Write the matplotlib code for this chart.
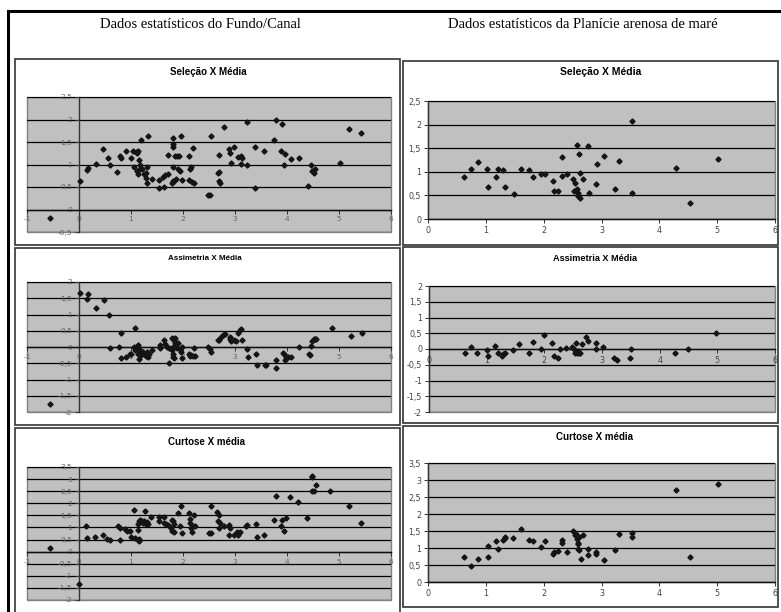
import matplotlib
matplotlib.use("Agg")
import matplotlib.pyplot as plt
from matplotlib.patches import Rectangle
from matplotlib.lines import Line2D
from matplotlib.ticker import FuncFormatter, MultipleLocator
import numpy as np

# ---------------- DATA ----------------
header_left = "Dados estatísticos do Fundo/Canal"
header_right = "Dados estatísticos da Planície arenosa de maré"

title_sel = "Seleção X Média"
title_ass = "Assimetria X Média"
title_cur = "Curtose X média"

# Fundo/Canal - Seleção
fc_sel_x = [-0.56, 0.02, 0.15, 0.17, 0.32, 0.47, 0.56, 0.6, 0.74, 0.79, 0.8, 0.9, 1.0, 1.03, 1.1, 1.12, 1.13,
            1.16, 1.17, 1.06, 1.11, 1.14, 1.17, 1.19, 1.22, 1.25, 1.28, 1.29, 1.32, 1.3, 1.31, 1.4, 1.54, 1.54,
            1.62, 1.65, 1.63, 1.71, 1.72, 1.8, 1.8, 1.8, 1.8, 1.81, 1.78, 1.87, 1.83, 1.85, 1.88, 1.92, 1.9, 1.94,
            1.97, 1.99, 2.12, 2.15, 2.13, 2.12, 2.17, 2.2, 2.22, 2.49, 2.52, 2.53, 2.67, 2.69, 2.69, 2.72, 2.7,
            2.79, 2.88, 2.9, 2.92, 2.99, 3.05, 3.12, 3.14, 3.12, 3.23, 3.24, 3.38, 3.39, 3.56, 3.75, 3.78, 3.88,
            3.91, 3.94, 3.97, 4.07, 4.23, 4.41, 4.47, 4.49, 4.51, 4.54, 5.02, 5.2, 5.42]
fc_sel_y = [-0.19, 0.64, 0.88, 0.92, 1.02, 1.35, 1.14, 1.0, 0.84, 1.18, 1.14, 1.29, 1.14, 1.3, 1.28, 1.25, 1.31,
            1.1, 1.0, 0.95, 0.86, 0.78, 0.9, 1.55, 0.91, 0.78, 0.7, 0.82, 1.63, 0.95, 0.58, 0.68, 0.65, 0.48,
            0.73, 0.77, 0.5, 0.8, 1.21, 1.58, 1.46, 1.39, 0.95, 0.63, 0.59, 0.67, 0.63, 1.18, 1.18, 1.18, 0.91, 0.86,
            1.63, 0.66, 1.18, 0.95, 0.91, 0.65, 0.61, 1.36, 0.59, 0.33, 0.33, 1.63, 0.82, 0.84, 0.63, 0.58, 1.21,
            1.84, 1.35, 1.26, 1.03, 1.39, 1.16, 1.18, 1.14, 1.02, 1.94, 0.98, 1.39, 0.48, 1.29, 1.55, 1.99, 1.31,
            1.89, 0.98, 1.23, 1.12, 1.14, 0.52, 0.99, 0.86, 0.82, 0.89, 1.03, 1.78, 1.7]

# Fundo/Canal - Assimetria
fc_ass_x = [-0.56, 0.02, 0.15, 0.17, 0.33, 0.48, 0.57, 0.6, 0.76, 0.8, 0.8, 0.9, 0.98, 1.0, 1.07, 1.05, 1.08,
            1.11, 1.13, 1.14, 1.15, 1.18, 1.2, 1.23, 1.25, 1.29, 1.3, 1.32, 1.35, 1.4, 1.55, 1.56, 1.63, 1.65,
            1.69, 1.73, 1.74, 1.78, 1.8, 1.82, 1.84, 1.78, 1.8, 1.8, 1.82, 1.81, 1.85, 1.88, 1.91, 1.94, 1.98,
            1.96, 1.99, 2.12, 2.13, 2.15, 2.19, 2.21, 2.23, 2.49, 2.51, 2.54, 2.67, 2.7, 2.73, 2.76, 2.8, 2.9,
            2.91, 2.93, 2.98, 3.02, 3.06, 3.09, 3.12, 3.14, 3.23, 3.25, 3.41, 3.43, 3.57, 3.6, 3.78, 3.78, 3.92,
            3.95, 3.97, 3.99, 4.02, 4.07, 4.23, 4.42, 4.44, 4.47, 4.49, 4.51, 4.53, 4.56, 4.86, 5.23, 5.44]
fc_ass_y = [-1.76, 1.66, 1.49, 1.64, 1.21, 1.45, 0.99, -0.02, 0.01, 0.44, -0.33, -0.3, -0.2, -0.22, 0.6, 0.01,
            -0.09, -0.04, -0.2, 0.06, -0.38, -0.09, -0.25, -0.14, -0.22, -0.28, -0.14, -0.3, -0.2, -0.09, 0.06,
            -0.04, 0.22, 0.08, 0.01, -0.04, -0.48, 0.27, 0.24, 0.22, 0.27, -0.09, -0.2, -0.3, -0.35, 0.01, 0.11,
            -0.04, 0.11, -0.07, 0.01, -0.14, -0.35, -0.2, -0.28, -0.25, -0.28, -0.04, -0.28, 0.01, -0.06, -0.14,
            0.22, 0.22, 0.3, 0.37, 0.4, 0.3, 0.24, 0.2, 0.22, 0.2, 0.44, 0.53, 0.56, 0.22, -0.06, -0.3, -0.23,
            -0.56, -0.56, -0.56, -0.4, -0.66, -0.18, -0.2, -0.4, -0.3, -0.3, -0.3, 0.01, -0.23, -0.25, 0.03, 0.19,
            0.24, 0.24, 0.24, 0.6, 0.35, 0.44]

# Fundo/Canal - Curtose
fc_cur_x = [-0.56, 0.0, 0.14, 0.16, 0.31, 0.47, 0.53, 0.59, 0.75, 0.79, 0.79, 0.89, 0.92, 0.98, 1.0, 1.06, 1.08,
            1.13, 1.16, 1.15, 1.13, 1.16, 1.17, 1.21, 1.14, 1.23, 1.25, 1.28, 1.3, 1.32, 1.26, 1.38, 1.53, 1.54,
            1.63, 1.63, 1.67, 1.72, 1.79, 1.8, 1.82, 1.77, 1.79, 1.82, 1.9, 1.95, 1.97, 1.98, 2.12, 2.13, 2.14,
            2.16, 2.17, 2.19, 2.22, 2.24, 2.5, 2.53, 2.53, 2.66, 2.69, 2.67, 2.72, 2.69, 2.78, 2.88, 2.91, 2.88,
            2.98, 3.04, 3.05, 3.1, 3.22, 3.24, 3.4, 3.43, 3.56, 3.75, 3.78, 3.88, 3.91, 3.95, 3.98, 4.06, 4.22,
            4.39, 4.48, 4.49, 4.48, 4.52, 4.55, 4.83, 5.2, 5.42]
fc_cur_y = [0.17, -1.32, 1.04, 0.55, 0.61, 0.69, 0.51, 0.48, 1.04, 0.97, 0.48, 0.93, 0.86, 0.86, 0.62, 1.73, 0.55,
            0.48, 0.42, 0.51, 1.14, 1.25, 1.32, 1.25, 0.9, 1.18, 1.25, 1.14, 1.22, 1.14, 1.66, 1.45, 1.45, 1.25,
            1.43, 1.18, 1.14, 1.11, 1.32, 1.25, 1.14, 0.97, 0.86, 0.83, 1.59, 1.04, 1.87, 0.76, 1.59, 1.34, 1.18,
            0.97, 0.83, 1.04, 1.52, 1.04, 0.76, 0.76, 1.9, 1.63, 1.52, 1.25, 1.18, 0.97, 1.04, 1.11, 0.97, 0.69,
            0.69, 0.83, 0.69, 0.8, 1.04, 1.11, 1.14, 0.62, 0.69, 1.32, 2.31, 1.08, 1.32, 0.86, 1.38, 2.24, 2.05,
            1.41, 3.14, 3.07, 2.49, 2.49, 2.77, 2.49, 1.87, 1.18]

# Planície arenosa - Seleção
pm_sel_x = [0.63, 0.74, 0.87, 1.02, 1.03, 1.17, 1.21, 1.29, 1.33, 1.48, 1.6, 1.75, 1.82, 1.96, 2.03, 2.16, 2.18,
            2.24, 2.31, 2.31, 2.41, 2.51, 2.52, 2.54, 2.57, 2.58, 2.59, 2.6, 2.61, 2.63, 2.62, 2.68, 2.76, 2.78,
            2.91, 2.93, 3.04, 3.23, 3.31, 3.52, 3.53, 4.29, 4.53, 5.02]
pm_sel_y = [0.88, 1.05, 1.2, 1.05, 0.67, 0.89, 1.05, 1.03, 0.67, 0.53, 1.06, 1.03, 0.9, 0.96, 0.96, 0.81, 0.6,
            0.6, 1.32, 0.92, 0.96, 0.84, 0.6, 0.77, 1.57, 0.63, 0.55, 0.48, 1.38, 0.97, 0.44, 0.84, 1.55, 0.56,
            0.74, 1.17, 1.34, 0.63, 1.22, 2.08, 0.56, 1.07, 0.34, 1.27]

# Planície arenosa - Assimetria
pm_ass_x = [0.62, 0.72, 0.84, 1.01, 1.02, 1.15, 1.19, 1.26, 1.29, 1.32, 1.46, 1.56, 1.74, 1.8, 1.94, 1.99, 2.13,
            2.16, 2.23, 2.27, 2.37, 2.48, 2.51, 2.54, 2.55, 2.56, 2.58, 2.6, 2.62, 2.65, 2.73, 2.75, 2.89, 2.89,
            3.01, 3.2, 3.26, 3.5, 3.49, 4.26, 4.49, 4.98]
pm_ass_y = [-0.14, 0.07, -0.14, -0.03, -0.22, 0.1, -0.14, -0.22, -0.17, -0.14, -0.03, 0.15, -0.14, 0.23, 0.0,
            0.45, 0.18, -0.22, -0.27, 0.0, 0.04, 0.07, 0.0, -0.14, 0.18, -0.14, -0.06, -0.14, -0.14, 0.15, 0.39,
            0.25, 0.18, 0.0, 0.07, -0.27, -0.35, -0.01, -0.3, -0.14, 0.0, 0.5]

# Planície arenosa - Curtose
pm_cur_x = [0.63, 0.74, 0.87, 1.03, 1.03, 1.17, 1.21, 1.29, 1.33, 1.34, 1.47, 1.6, 1.75, 1.82, 1.96, 2.03, 2.16,
            2.18, 2.25, 2.31, 2.31, 2.41, 2.51, 2.54, 2.56, 2.58, 2.59, 2.6, 2.61, 2.6, 2.61, 2.64, 2.68, 2.77,
            2.77, 2.91, 2.91, 3.04, 3.23, 3.3, 3.53, 3.53, 4.29, 4.53, 5.02]
pm_cur_y = [0.74, 0.46, 0.69, 1.05, 0.74, 1.21, 0.98, 1.25, 1.3, 1.32, 1.3, 1.57, 1.23, 1.21, 1.03, 1.2, 0.83,
            0.88, 0.91, 1.25, 1.16, 0.88, 1.49, 1.37, 1.42, 1.27, 1.13, 1.15, 1.32, 0.96, 0.93, 0.69, 1.37, 0.98,
            0.78, 0.88, 0.83, 0.64, 0.93, 1.4, 1.45, 1.32, 2.7, 0.74, 2.87]

# ---------------- LAYOUT ----------------
W, H = 781, 612
fig = plt.figure(figsize=(W / 100, H / 100), dpi=100)
fig.patch.set_facecolor("white")


def fx(x):
    return x / W


def fy(y):
    return 1 - y / H


def box(x0, y0, x1, y1, lw=1.2, ec="#333333"):
    r = Rectangle((fx(x0), fy(y1)), fx(x1) - fx(x0), fy(y0) - fy(y1), transform=fig.transFigure,
                  fill=True, facecolor="white", edgecolor=ec, lw=lw, zorder=-5)
    fig.add_artist(r)


# outer frame
fig.add_artist(Line2D([fx(8), fx(8)], [fy(11), fy(615)], transform=fig.transFigure, color="black", lw=2.2, zorder=-4))
fig.add_artist(Line2D([fx(8), fx(785)], [fy(11), fy(11)], transform=fig.transFigure, color="black", lw=2.2, zorder=-4))

# chart boxes
box(15, 59, 400, 245)
box(15, 248, 400, 425)
box(15, 428, 400, 616)
box(403, 61, 778, 245)
box(403, 247, 778, 423)
box(403, 426, 778, 607)

fig.text(fx(200), fy(24), header_left, family="Liberation Serif", fontsize=10.5, ha="center", va="center")
fig.text(fx(583), fy(24), header_right, family="Liberation Serif", fontsize=10.5, ha="center", va="center")

fmt = FuncFormatter(lambda v, p: ("%g" % round(v, 2)).replace(".", ",") if abs(v) > 1e-9 else "0")


def make_ax(rect, xlim, ylim, cross, xs, ys, lab=5.5, labcol="#555555"):
    x0, y0, x1, y1 = rect
    ax = fig.add_axes([fx(x0), fy(y1), fx(x1) - fx(x0), fy(y0) - fy(y1)])
    ax.set_facecolor("#C0C0C0")
    ax.set_xlim(*xlim)
    ax.set_ylim(*ylim)
    ax.xaxis.set_major_locator(MultipleLocator(1))
    ax.yaxis.set_major_locator(MultipleLocator(0.5))
    ax.xaxis.set_major_formatter(fmt)
    ax.yaxis.set_major_formatter(fmt)
    ax.yaxis.grid(True, color="black", lw=0.9)
    ax.set_axisbelow(True)
    for s in ("top", "right"):
        ax.spines[s].set_visible(False)
    ax.add_patch(Rectangle((0, 0), 1, 1, transform=ax.transAxes, fill=False, ec="#808080", lw=1.0,
                           zorder=0.5, clip_on=False))
    if cross:
        ax.spines["left"].set_position(("data", 0))
    if ylim[0] < 0:
        ax.spines["bottom"].set_position(("data", 0))
    ax.spines["left"].set_color("#333333")
    ax.spines["bottom"].set_color("#111111")
    ax.spines["left"].set_linewidth(1.0)
    ax.spines["bottom"].set_linewidth(1.0)
    ax.tick_params(axis="both", labelsize=lab, labelcolor=labcol, color="#333333", length=3, width=0.7,
                   pad=2, direction="out")
    ax.plot(xs, ys, linestyle="none", marker="D", ms=2.6, color="#141414", mec="#141414", zorder=3)
    return ax


make_ax((27, 97, 391, 232), (-1, 6), (-0.5, 2.5), True, fc_sel_x, fc_sel_y, 5.4, "#666666")
make_ax((27, 282, 391, 412), (-1, 6), (-2, 2), True, fc_ass_x, fc_ass_y, 5.4, "#666666")
make_ax((27, 467, 391, 600), (-1, 6), (-2, 3.5), True, fc_cur_x, fc_cur_y, 5.4, "#666666")
make_ax((428, 101, 775, 219), (0, 6), (0, 2.5), False, pm_sel_x, pm_sel_y, 5.8, "#444444")
make_ax((429, 286, 775, 412), (0, 6), (-2, 2), False, pm_ass_x, pm_ass_y, 5.8, "#444444")
make_ax((428, 463, 775, 582), (0, 6), (0, 3.5), False, pm_cur_x, pm_cur_y, 5.8, "#444444")

tkw = dict(family="Liberation Sans", weight="bold", ha="center", va="center")
fig.text(fx(208), fy(72), title_sel, fontsize=7, **tkw)
fig.text(fx(205), fy(258), title_ass, fontsize=5.8, **tkw)
fig.text(fx(207), fy(442), title_cur, fontsize=7, **tkw)
fig.text(fx(601), fy(72), title_sel, fontsize=7.5, **tkw)
fig.text(fx(595), fy(258), title_ass, fontsize=6.6, **tkw)
fig.text(fx(594), fy(437), title_cur, fontsize=7, **tkw)

fig.savefig("out.png", dpi=100)
